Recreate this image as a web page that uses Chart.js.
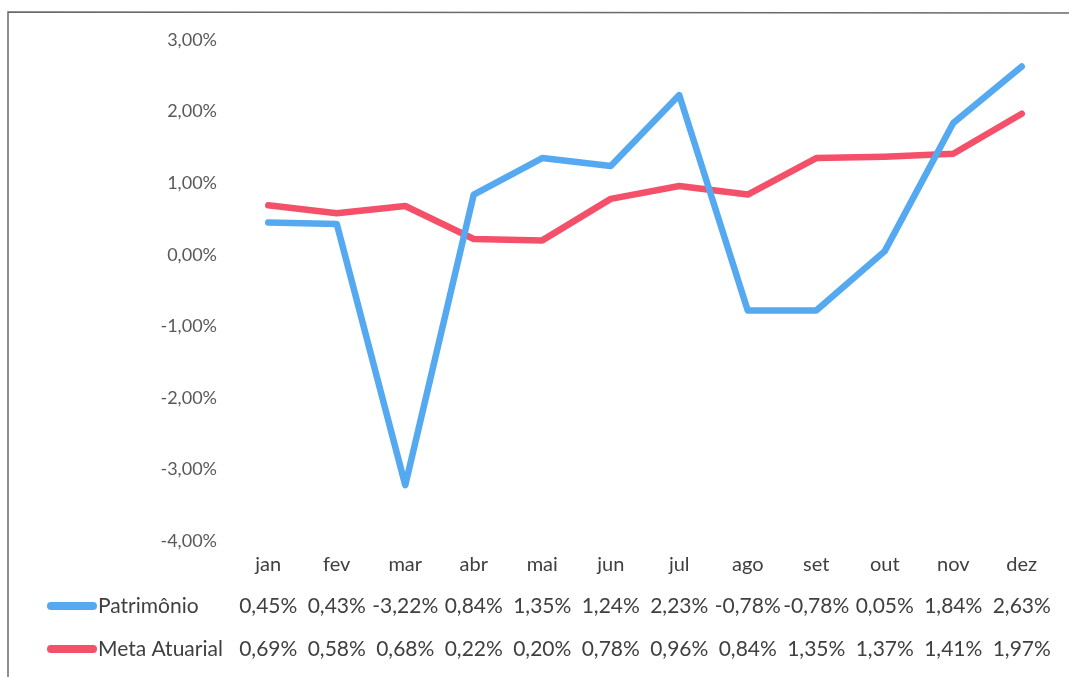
<!DOCTYPE html>
<html lang="pt-BR">
<head>
<meta charset="utf-8">
<title>Patrimônio x Meta Atuarial</title>
<script src="https://cdn.jsdelivr.net/npm/chart.js@4"></script>
<style>
  html, body { margin: 0; padding: 0; background: #fff; }
  #wrap { width: 1069px; height: 677px; position: relative; }
</style>
</head>
<body>
<div id="wrap"><canvas id="chart" width="1069" height="677"></canvas></div>
<script>
/* monthly returns, % */
const months = ["jan", "fev", "mar", "abr", "mai", "jun", "jul", "ago", "set", "out", "nov", "dez"];
const patrimonio = [0.45, 0.43, -3.22, 0.84, 1.35, 1.24, 2.23, -0.78, -0.78, 0.05, 1.84, 2.63];
const metaAtuarial = [0.69, 0.58, 0.68, 0.22, 0.20, 0.78, 0.96, 0.84, 1.35, 1.37, 1.41, 1.97];
const yTicks = [3, 2, 1, 0, -1, -2, -3, -4];

const BLUE = "#55a9f0";
const RED = "#f4506a";
const FONT = "Lato, 'Open Sans', sans-serif";

function pct(v) {
  return v.toFixed(2).replace(".", ",") + "%";
}

/* frame + data table under the x axis */
const tablePlugin = {
  id: "dataTable",
  beforeDraw(chart) {
    const ctx = chart.ctx;
    ctx.save();
    ctx.fillStyle = "#fff";
    ctx.fillRect(0, 0, chart.width, chart.height);
    ctx.strokeStyle = "#6a6a6a";
    ctx.lineWidth = 1.5;
    ctx.beginPath();
    ctx.moveTo(8, chart.height);
    ctx.lineTo(8, 12);
    ctx.lineTo(chart.width, 13);
    ctx.stroke();
    ctx.restore();
  },
  afterDraw(chart) {
    const ctx = chart.ctx;
    const xs = chart.scales.x;
    const rows = [
      { name: "Patrimônio", data: patrimonio, color: BLUE, y: 606 },
      { name: "Meta Atuarial", data: metaAtuarial, color: RED, y: 649 }
    ];
    ctx.save();
    ctx.font = "21px " + FONT;
    ctx.textBaseline = "middle";
    rows.forEach(r => {
      // legend key
      ctx.strokeStyle = r.color;
      ctx.lineWidth = 8;
      ctx.lineCap = "round";
      ctx.beginPath();
      ctx.moveTo(51, r.y);
      ctx.lineTo(93, r.y);
      ctx.stroke();

      ctx.fillStyle = "#404040";
      ctx.textAlign = "left";
      ctx.fillText(r.name, 98, r.y);

      ctx.textAlign = "center";
      r.data.forEach((v, i) => {
        ctx.fillText(pct(v), xs.getPixelForValue(i), r.y);
      });
    });
    ctx.restore();
  }
};

new Chart(document.getElementById("chart"), {
  type: "line",
  data: {
    labels: months,
    datasets: [
      { label: "Patrimônio", data: patrimonio, borderColor: BLUE, backgroundColor: BLUE },
      { label: "Meta Atuarial", data: metaAtuarial, borderColor: RED, backgroundColor: RED }
    ]
  },
  options: {
    responsive: false,
    animation: false,
    layout: { padding: { top: 40, right: 13, left: 0, bottom: 0 } },
    elements: {
      line: { borderWidth: 6.5, tension: 0, borderCapStyle: "round", borderJoinStyle: "round" },
      point: { radius: 0, hoverRadius: 0 }
    },
    plugins: {
      legend: { display: false },
      tooltip: { enabled: false }
    },
    scales: {
      x: {
        offset: true,
        grid: { display: false, drawTicks: false },
        border: { display: false },
        ticks: { color: "#404040", font: { family: FONT, size: 20 }, padding: 12, maxRotation: 0 },
        afterFit(s) { s.height = 136; }
      },
      y: {
        min: -4,
        max: 3,
        grid: { display: false, drawTicks: false },
        border: { display: false },
        afterBuildTicks(s) { s.ticks = yTicks.map(v => ({ value: v })); },
        ticks: {
          color: "#595959",
          font: { family: FONT, size: 18 },
          padding: 17,
          callback: v => pct(v)
        },
        afterFit(s) { s.width = 234; }
      }
    }
  },
  plugins: [tablePlugin]
});
</script>
</body>
</html>
